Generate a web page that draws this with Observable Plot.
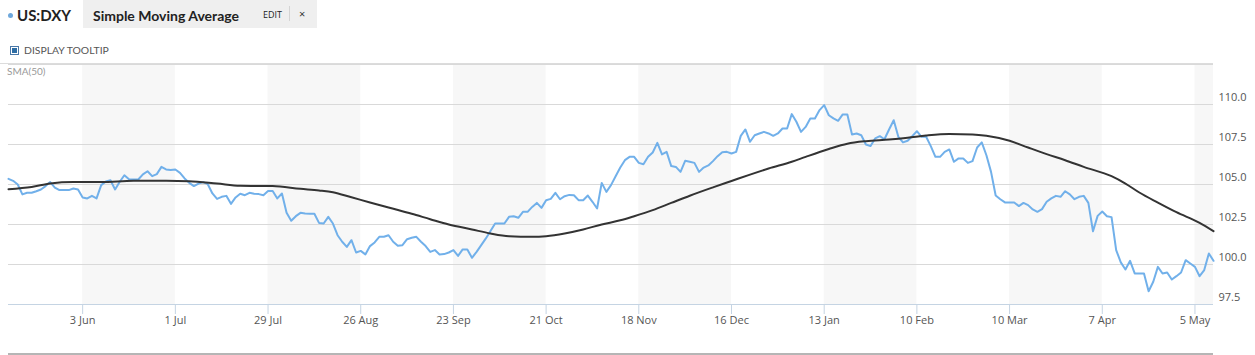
<!DOCTYPE html>
<html><head><meta charset="utf-8">
<script src="https://cdn.jsdelivr.net/npm/d3@7"></script>
<script src="https://cdn.jsdelivr.net/npm/@observablehq/plot@0.6"></script>
<style>
body{margin:0;background:#fff;}
#wrap{position:relative;width:1255px;height:355px;overflow:hidden;font-family:Lato,sans-serif;}
#chart{position:absolute;left:0;top:0;}
.abs{position:absolute;white-space:nowrap;}
.dot{left:8px;top:13px;width:5px;height:5px;border-radius:50%;background:#6fa8dc;}
.sym{left:17px;top:6px;font-size:15px;line-height:18px;font-weight:bold;color:#222;}
.tab{left:83px;top:0;width:234px;height:28px;background:#efefef;}
.tt{left:93px;top:7px;font-size:14px;line-height:17px;font-weight:bold;color:#222;}
.edit{left:263px;top:9px;font-family:'Open Sans',sans-serif;font-size:9px;line-height:12px;color:#222;}
.sep{left:289px;top:6px;width:1px;height:15px;background:#d4d4d4;}
.xx{left:299px;top:7px;font-family:'Open Sans',sans-serif;font-size:11px;line-height:14px;color:#333;}
.chk{left:10px;top:46px;width:9px;height:9px;box-sizing:border-box;border:1px solid #4a78a8;background:#2e6da4;box-shadow:inset 0 0 0 1px #fff;}
.dt{left:24px;top:44px;font-size:10.4px;line-height:12px;color:#555;}
.sma{left:7px;top:65px;font-size:10px;line-height:12px;color:#999;}
.topline{left:0;top:63px;width:1213px;height:1px;background:#dcdcdc;}
.botline{left:8px;top:353px;width:1205px;height:2px;background:#b5b5b5;}
</style></head><body>
<div id="wrap">
<div id="chart"></div>
<div class="abs tab"></div>
<div class="abs dot"></div><div class="abs sym">US:DXY</div>
<div class="abs tt">Simple Moving Average</div>
<div class="abs edit">EDIT</div><div class="abs sep"></div><div class="abs xx">×</div>
<div class="abs chk"></div><div class="abs dt">DISPLAY TOOLTIP</div>
<div class="abs topline"></div>
<div class="abs sma">SMA(50)</div>
<div class="abs botline"></div>
</div>
<script>
// Trading-day range (weekdays) of the series
const startDate = "2024-05-10";
const endDate = "2025-05-09";

// US:DXY daily closes, one per trading day
const dxy = [
105.35,105.23,105.0,104.38,104.48,104.48,104.58,104.69,104.9,105.15,
104.81,104.65,104.65,104.65,104.75,104.69,104.19,104.13,104.29,104.13,
104.96,105.19,105.27,104.69,105.17,105.58,105.33,105.31,105.31,105.63,
105.83,105.52,105.65,106.1,105.94,105.9,105.94,105.73,105.38,105.1,
104.9,105.06,105.15,105.02,104.44,104.1,104.23,104.29,103.79,104.19,
104.42,104.33,104.48,104.42,104.4,104.33,104.6,104.6,104.13,104.44,
103.23,102.73,103.02,103.23,103.19,103.17,103.17,102.6,102.56,102.98,
102.56,101.83,101.42,101.10,101.52,100.75,100.85,100.63,101.15,101.38,
101.73,101.73,101.83,101.42,101.17,101.21,101.58,101.67,101.73,101.42,
101.15,100.79,100.9,100.63,100.65,100.75,100.9,100.54,100.94,100.94,
100.42,100.79,101.21,101.63,102.1,102.56,102.56,102.56,102.98,103.02,
102.92,103.29,103.29,103.6,103.85,103.54,104.02,104.1,104.48,104.08,
104.27,104.35,104.33,104.02,104.02,104.31,103.92,103.5,105.1,104.54,
104.96,105.52,106.06,106.52,106.73,106.73,106.35,106.27,106.73,107.0,
107.6,106.88,107.04,106.15,106.1,105.79,106.48,106.42,106.35,105.79,
106.06,106.19,106.46,106.77,107.02,107.04,106.94,107.04,108.04,108.44,
107.67,108.08,108.19,108.29,108.19,108.04,108.19,108.5,108.5,109.4,
108.92,108.29,108.6,109.13,109.13,109.65,109.96,109.33,109.13,108.98,
109.38,109.38,108.13,108.19,108.08,107.5,107.4,107.88,108.02,107.83,
108.44,109.02,107.98,107.63,107.73,108.02,108.33,107.98,107.98,107.4,
106.73,106.73,107.04,107.19,106.42,106.63,106.63,106.35,106.46,107.31,
107.63,106.83,105.79,104.31,104.08,103.88,103.88,103.88,103.65,103.85,
103.71,103.44,103.29,103.46,103.92,104.13,104.29,104.23,104.58,104.38,
104.08,104.23,104.29,103.85,102.08,103.04,103.31,103.02,102.96,100.9,
100.13,99.69,100.23,99.44,99.44,99.44,98.33,98.92,99.85,99.44,
99.5,99.06,99.27,99.5,100.27,100.06,99.85,99.27,99.65,100.69,100.23
];

// SMA(50) read at trading-day positions
const smaDay = [0,5,9,14,20,27,34,39,45,50,57,63,67,70,74,78,82,87,91,95,100,104,108,113,116,120,124,128,132,135,139,143,147,152,156,160,164,169,172,177,181,185,190,194,198,203,208,211,216,220,224,228,232,238,241,244,248,252,257,260];
const smaVal = [104.71,104.85,105.06,105.15,105.15,105.23,105.23,105.21,105.06,104.92,104.9,104.73,104.63,104.52,104.2,103.88,103.56,103.17,102.83,102.5,102.19,101.94,101.77,101.73,101.77,101.94,102.19,102.5,102.76,103.02,103.4,103.85,104.3,104.82,105.22,105.62,106.0,106.42,106.73,107.22,107.55,107.71,107.81,107.92,108.06,108.16,108.13,108.04,107.73,107.31,106.9,106.52,106.1,105.52,105.06,104.5,103.87,103.27,102.6,102.08];

// X tick dates and labels
const tickDates = ["2024-06-03","2024-07-01","2024-07-29","2024-08-26","2024-09-23","2024-10-21","2024-11-18","2024-12-16","2025-01-13","2025-02-10","2025-03-10","2025-04-07","2025-05-05"];
const tickLabels = ["3 Jun","1 Jul","29 Jul","26 Aug","23 Sep","21 Oct","18 Nov","16 Dec","13 Jan","10 Feb","10 Mar","7 Apr","5 May"];
const yTicks = [97.5,100,102.5,105,107.5,110];
const yGrid = [100,102.5,105,107.5,110,112.5];

const fmt = d3.utcFormat("%Y-%m-%d");
const days = d3.utcDay.range(new Date(startDate), d3.utcDay.offset(new Date(endDate), 1))
  .filter(d => d.getUTCDay() !== 0 && d.getUTCDay() !== 6).map(fmt);
const dayIndex = new Map(days.map((d, i) => [d, i]));
const lastIdx = days.length - 1;

const series = dxy.map((v, i) => ({i, v}));
const sma = smaDay.map((d, k) => ({i: d, v: smaVal[k]}));
const tickIdx = tickDates.map(d => dayIndex.get(d));
const labelOf = new Map(tickIdx.map((t, k) => [t, tickLabels[k]]));
const bands = [];
for (let k = 0; k < tickIdx.length; k += 2) bands.push({a: tickIdx[k], b: k + 1 < tickIdx.length ? tickIdx[k + 1] : lastIdx});

const chart = Plot.plot({
  width: 1255, height: 355,
  marginTop: 64, marginBottom: 51, marginLeft: 8, marginRight: 42,
  x: {type: "linear", domain: [0, lastIdx]},
  y: {domain: [97.5, 112.5]},
  style: {fontFamily: "'Open Sans', sans-serif", fontSize: "11px", color: "#555", background: "transparent"},
  marks: [
    Plot.rect(bands, {x1: "a", x2: "b", y1: () => 97.5, y2: () => 112.5, fill: "#f7f7f7"}),
    Plot.ruleY(yGrid, {stroke: "#d9d9d9"}),
    Plot.ruleY([97.5], {stroke: "#c5d4e3"}),
    Plot.axisX({ticks: tickIdx, tickFormat: t => labelOf.get(t), tickSize: 10, tickPadding: 2, stroke: "#c5d4e3", fill: "#555", label: null}),
    Plot.axisY({anchor: "right", ticks: yTicks, tickSize: 0, tickPadding: 5, dy: -7, tickFormat: d => d.toFixed(1), fill: "#555", label: null}),
    Plot.line(series, {x: "i", y: "v", stroke: "#71b0ea", strokeWidth: 2}),
    Plot.line(sma, {x: "i", y: "v", stroke: "#333", strokeWidth: 2, curve: "monotone-x"})
  ]
});
document.getElementById("chart").appendChild(chart);
</script>
</body></html>
